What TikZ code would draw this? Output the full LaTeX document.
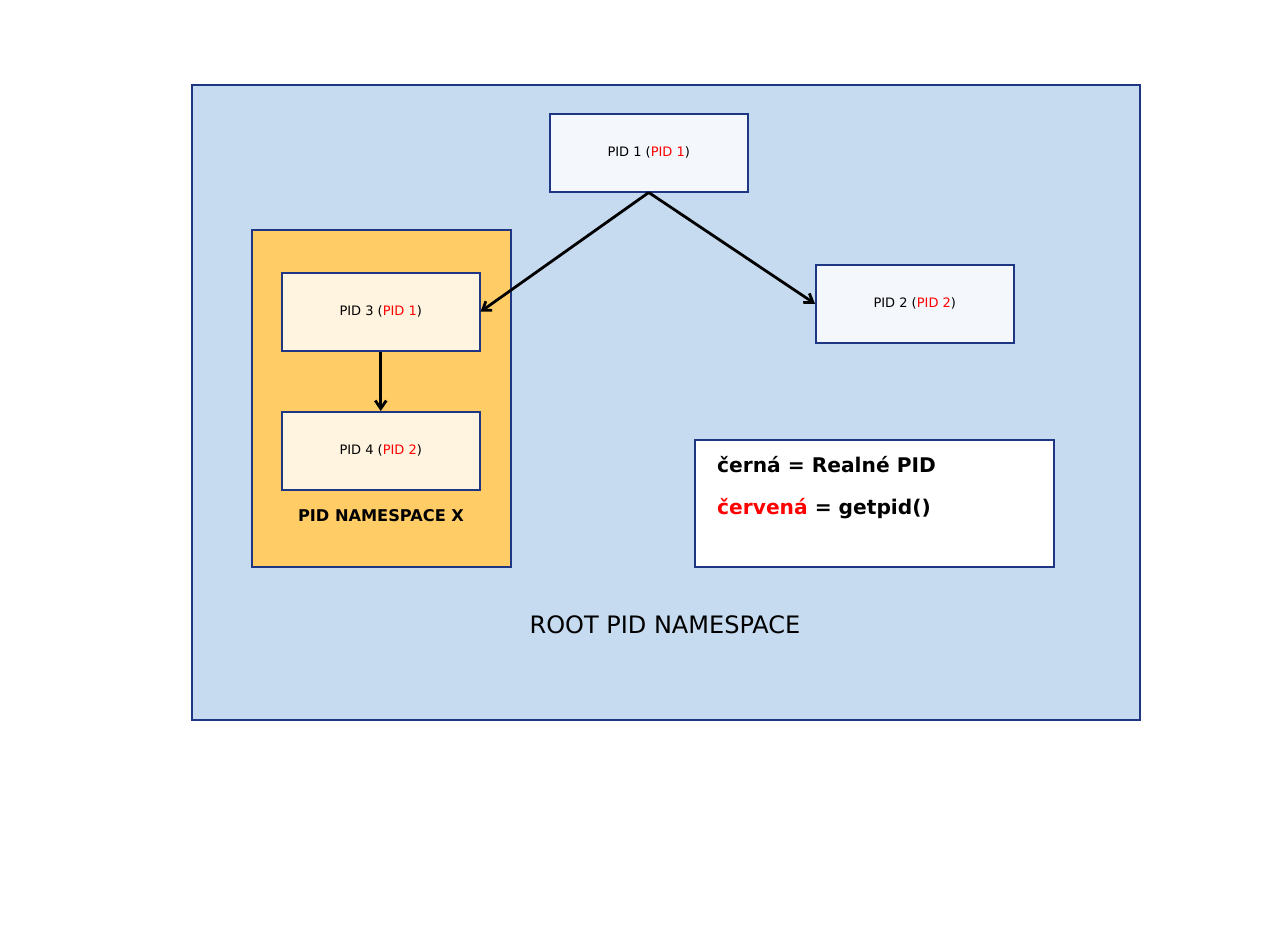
\documentclass[tikz,border=0pt]{standalone}
\usepackage{fontspec}
\setmainfont{DejaVu Sans}
\usetikzlibrary{arrows.meta}
\definecolor{rootfill}{HTML}{C6DBF0}
\definecolor{edge}{HTML}{1F3685}
\definecolor{nsfill}{HTML}{FFCC66}
\definecolor{pfill}{HTML}{F4F7FC}
\definecolor{cfill}{HTML}{FFF4E0}
\definecolor{pidred}{HTML}{FF0000}
\tikzset{
  box/.style={draw=edge, line width=1.5pt, inner sep=0pt},
  proc/.style={box, minimum width=198pt, minimum height=78pt, font=\fontsize{13}{15}\selectfont},
  arr/.style={-{Straight Barb[length=8pt,width=11pt]}, line width=2.8pt, black},
}
\newcommand{\rp}[1]{\textcolor{pidred}{#1}}
\begin{document}
\begin{tikzpicture}[x=1pt,y=-1pt]
\useasboundingbox (0,0) rectangle (1284,950);
\fill[white] (0,0) rectangle (1284,950);
\begin{scope}[shift={(-1,-1)}]
\node[box, fill=rootfill, minimum width=948pt, minimum height=635pt, anchor=north west] (root) at (192,85) {};
\node[box, fill=nsfill, minimum width=259pt, minimum height=337pt, anchor=north west] (ns) at (252,230) {};
\node[proc, fill=pfill, anchor=north west] (p1) at (550,114) {PID 1 (\rp{PID 1})};
\node[proc, fill=pfill, anchor=north west] (p2) at (816,265) {PID 2 (\rp{PID 2})};
\node[proc, fill=cfill, anchor=north west] (p3) at (282,273) {PID 3 (\rp{PID 1})};
\node[proc, fill=cfill, anchor=north west] (p4) at (282,412) {PID 4 (\rp{PID 2})};
\node[box, fill=white, minimum width=359pt, minimum height=127pt, anchor=north west] (leg) at (695,440) {};
\node[font=\fontsize{16.2}{19}\selectfont\bfseries] (nslabel) at (382,517) {PID NAMESPACE X};
\node[font=\fontsize{24}{28}\selectfont] (rootlabel) at (666,626) {ROOT PID NAMESPACE};
\node[font=\fontsize{20.2}{24}\selectfont\bfseries, anchor=west, inner sep=0pt] (l1) at (718,466) {černá = Realné PID};
\node[font=\fontsize{20.2}{24}\selectfont\bfseries, anchor=west, inner sep=0pt] (l2) at (718,510) {\rp{červená} = getpid()};
\draw[arr] (p1.south) -- (p3.east);
\draw[arr] (p1.south) -- (p2.west);
\draw[arr] (p3.south) -- (p4.north);
\end{scope}
\end{tikzpicture}
\end{document}
